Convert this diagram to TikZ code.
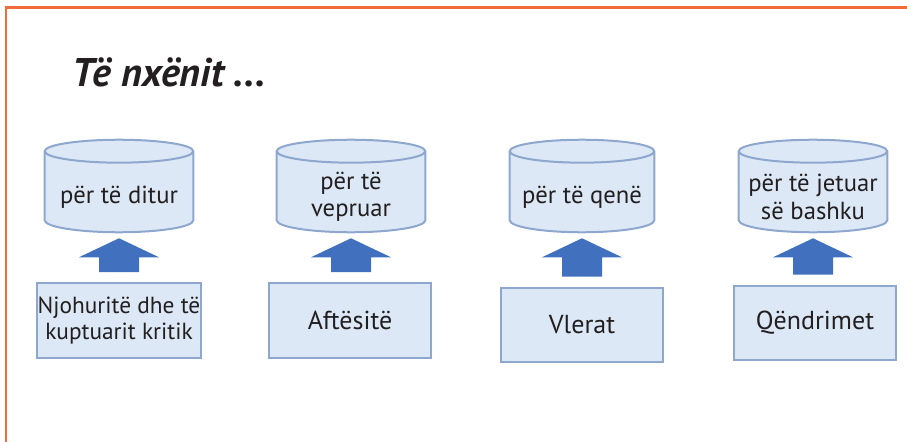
\documentclass[tikz,border=0pt]{standalone}
\usepackage{fontspec}
\setmainfont{PT Sans}
\usetikzlibrary{calc,backgrounds}
\definecolor{orng}{HTML}{F26B3A}
\definecolor{boxfill}{HTML}{DCE8F5}
\definecolor{boxline}{HTML}{8EA7CE}
\definecolor{arrowblue}{HTML}{4170BE}
\definecolor{ink}{HTML}{231F20}
\newcommand\drawcyl[1]{%
  \path[cylshape] let \p1=(#1.north west), \p2=(#1.south east), \n1={(\x2-\x1)/2} in
    (\x1,\y1+7.9pt) -- (\x1,\y2+9pt) arc[start angle=180, end angle=360, x radius=\n1, y radius=9pt]
    -- (\x2,\y1+7.9pt) arc[start angle=0, end angle=180, x radius=\n1, y radius=8.6pt] -- cycle
    (\x1,\y1+7.9pt) arc[start angle=180, end angle=360, x radius=\n1, y radius=8.6pt];
}
\newcommand\blockarrow[2]{%
  \fill[arrowblue] let \p1=(#2.south), \p2=(#1.north) in
    (\x1,\y1-4.5pt) -- (\x1+30pt,\y1-18.75pt) -- (\x1+15pt,\y1-18.75pt) -- (\x1+15pt,\y2+7.5pt)
    -- (\x1-15pt,\y2+7.5pt) -- (\x1-15pt,\y1-18.75pt) -- (\x1-30pt,\y1-18.75pt) -- cycle;
}
\begin{document}
\begin{tikzpicture}[x=0.75pt,y=-0.75pt,
  txt/.style={font=\fontsize{18.5}{20.5}\selectfont, text=ink, align=center, inner sep=0pt},
  box/.style={txt, draw=boxline, fill=boxfill, line width=1.5pt, minimum width=122pt, minimum height=56pt},
  word/.style={font=\fontsize{19.5}{22}\selectfont},
  cyl/.style={txt, minimum width=111pt, minimum height=52.5pt},
  cylshape/.style={draw=boxline, fill=boxfill, line width=1.5pt},
  border/.style={draw=orng, line width=2pt}]
\useasboundingbox (0,0) rectangle (907,442);
\coordinate (tl) at (6,7.5);
\coordinate (tr) at (907,7.5);
\coordinate (bl) at (6,442);
\draw[border] (tr) -- (tl) -- (bl);

\node[anchor=base west, font=\fontsize{30}{36}\selectfont\bfseries\itshape, text=ink, inner sep=0pt] (title) at (72,87) {Të nxënit ...};

\node[cyl] (c1) at (119,197) {për të ditur};
\node[cyl] (c2) at (351,197) {për të\\vepruar};
\node[cyl, minimum width=108pt] (c3) at (582,197) {për të qenë};
\node[cyl] (c4) at (813,197) {për të jetuar\\së bashku};

\begin{scope}[on background layer]
\drawcyl{c1}\drawcyl{c2}\drawcyl{c3}\drawcyl{c4}
\end{scope}

\node[box, font=\fontsize{17.5}{20}\selectfont, minimum width=123pt] (r1) at (119,320.5) {Njohuritë dhe të\\kuptuarit kritik};
\node[box, word] (r2) at (350,320.5) {Aftësitë};
\node[box, word] (r3) at (582,325) {Vlerat};
\node[box, word] (r4) at (815,323) {Qëndrimet};

\blockarrow{r1}{c1}
\blockarrow{r2}{c2}
\blockarrow{r3}{c3}
\blockarrow{r4}{c4}
\end{tikzpicture}
\end{document}
